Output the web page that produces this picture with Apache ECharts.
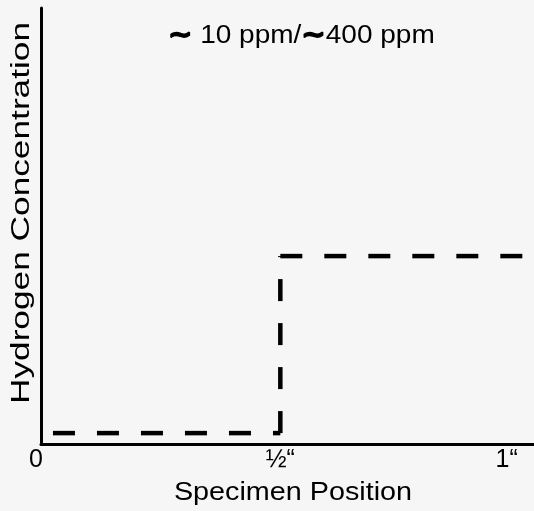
<!DOCTYPE html>
<html>
<head>
<meta charset="utf-8">
<script src="https://cdn.jsdelivr.net/npm/echarts@6/dist/echarts.min.js"></script>
<style>
html,body{margin:0;padding:0;background:#f6f6f6;}
#chart{width:534px;height:511px;}
</style>
</head>
<body>
<div id="chart"></div>
<script>
// Step profile of hydrogen concentration along the specimen (inches)
const positions = [0.025, 0.5, 0.5, 1.006];
const concentration = [0.025, 0.025, 0.431, 0.431];
const tickValues = [0, 0.5, 1];
const tickLabels = ['0', '½“', '1“'];
const annotationParts = ['∼', ' 10 ppm/', '∼', '400 ppm'];
const xTitle = 'Specimen Position';
const yTitle = 'Hydrogen Concentration';

const chart = echarts.init(document.getElementById('chart'));
const font = 'Liberation Sans, Arial, sans-serif';

// each leg of the step is its own dashed segment so the dash pattern restarts at every corner
const segments = [];
for (let i = 0; i < positions.length - 1; i++) {
  segments.push({
    type: 'line',
    data: [[positions[i], concentration[i]], [positions[i + 1], concentration[i + 1]]],
    symbol: 'none',
    lineStyle: { color: '#000', width: 4.5, type: [22, 22], cap: 'butt' },
    clip: false
  });
}

chart.setOption({
  backgroundColor: '#f6f6f6',
  animation: false,
  grid: { left: 41, right: 0, top: 8, bottom: 67, outerBoundsMode: 'none' },
  xAxis: {
    type: 'value',
    min: 0,
    max: 1.03,
    interval: 0.5,
    axisLine: { lineStyle: { color: '#000', width: 3 } },
    axisTick: { show: false },
    splitLine: { show: false },
    axisLabel: {
      margin: 4,
      fontFamily: font,
      fontSize: 25,
      color: '#000',
      showMaxLabel: false,
      formatter: function (v) {
        const i = tickValues.findIndex(t => Math.abs(t - v) < 1e-6);
        if (i < 0) return '';
        if (i === 0) return '{l|' + tickLabels[i] + '}';
        if (i === 2) return '{r|' + tickLabels[i] + '}';
        return tickLabels[i];
      },
      rich: {
        l: { fontFamily: font, fontSize: 25, color: '#000', padding: [0, 10, 0, 0] },
        r: { fontFamily: font, fontSize: 25, color: '#000', padding: [0, 26, 0, 0] }
      }
    }
  },
  yAxis: {
    type: 'value',
    min: 0,
    max: 1,
    axisLine: { show: true, lineStyle: { color: '#000', width: 3 } },
    axisTick: { show: false },
    axisLabel: { show: false },
    splitLine: { show: false }
  },
  graphic: [
    {
      type: 'text',
      x: 168, y: 36,
      scaleX: 1.12,
      style: {
        text: '{t|' + annotationParts[0] + '}' + annotationParts[1] + '{t|' + annotationParts[2] + '}' + annotationParts[3],
        fontFamily: font, fontSize: 25, fill: '#000',
        verticalAlign: 'middle', align: 'left',
        rich: {
          t: { fontFamily: 'DejaVu Sans', fontSize: 26, fontWeight: 'bold', fill: '#000', stroke: '#000', lineWidth: 1.5 }
        }
      }
    },
    {
      type: 'text',
      x: 293, y: 493,
      scaleX: 1.15,
      style: {
        text: xTitle, fontFamily: font, fontSize: 25, fill: '#000',
        align: 'center', verticalAlign: 'middle'
      }
    },
    {
      type: 'text',
      x: 22, y: 213,
      rotation: Math.PI / 2,
      scaleX: 1.41,
      style: {
        text: yTitle, fontFamily: font, fontSize: 25, fill: '#000',
        align: 'center', verticalAlign: 'middle'
      }
    }
  ],
  series: segments
});
</script>
</body>
</html>
